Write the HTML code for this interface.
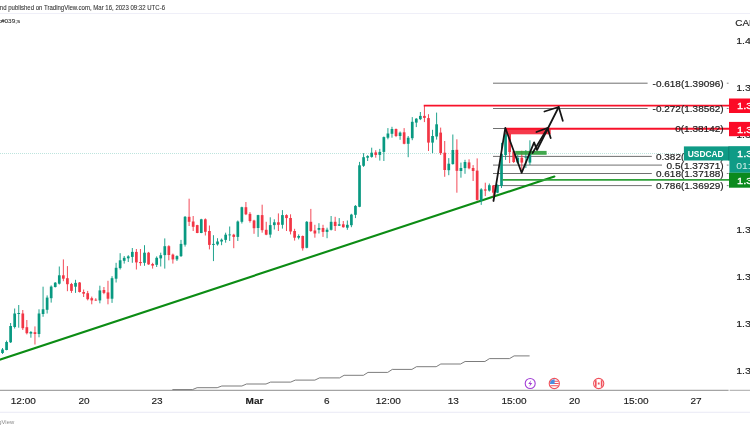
<!DOCTYPE html>
<html lang="en"><head><meta charset="utf-8"><title>USDCAD chart</title>
<style>html,body{margin:0;padding:0;background:#fff;}body{width:750px;height:430px;overflow:hidden;}svg{display:block;font-family:'Liberation Sans', 'DejaVu Sans', sans-serif;}</style>
</head><body>
<svg width="750" height="430" viewBox="0 0 750 430">
<rect x="0" y="0" width="750" height="430" fill="#ffffff"/>
<text x="-3.5" y="9.6" font-size="6.6" fill="#333" stroke="#333" stroke-width="0.08" textLength="168.5" lengthAdjust="spacingAndGlyphs">and published on TradingView.com, Mar 16, 2023 09:32 UTC-6</text>
<line x1="0" y1="13.5" x2="750" y2="13.5" stroke="#ebebf6" stroke-width="0.8"/>
<text x="-2.2" y="23.4" font-size="6.2" fill="#333" stroke="#333" stroke-width="0.1" textLength="22.4" lengthAdjust="spacingAndGlyphs">k#039;s</text>
<polyline fill="none" stroke="#646464" stroke-width="0.85" points="172.4,389.6 192.5,389.6 197.1,387.7 217.2,387.7 221.8,386.0 241.9,386.0 246.5,384.0 266.0,384.0 270.6,382.1 290.7,382.1 295.3,380.1 314.9,380.1 319.5,377.9 339.5,377.9 344.1,375.3 363.4,375.3 368.0,372.4 387.7,372.4 392.3,369.4 411.9,369.4 416.5,366.7 436.2,366.7 440.8,364.0 460.5,364.0 465.1,361.5 484.9,361.5 489.5,358.6 509.5,358.6 514.1,355.9 529.6,355.9"/>
<line x1="0" y1="153.5" x2="729" y2="153.5" stroke="#089981" stroke-width="0.7" stroke-dasharray="1 1" opacity="0.38"/>
<line x1="493" y1="83.2" x2="647.6" y2="83.2" stroke="#606060" stroke-width="0.9"/>
<line x1="493" y1="108.5" x2="647.6" y2="108.5" stroke="#606060" stroke-width="0.9"/>
<line x1="493" y1="128.5" x2="672.0" y2="128.5" stroke="#606060" stroke-width="0.9"/>
<line x1="493" y1="156.4" x2="651.8" y2="156.4" stroke="#606060" stroke-width="0.9"/>
<line x1="493" y1="165.1" x2="662.0" y2="165.1" stroke="#606060" stroke-width="0.9"/>
<line x1="493" y1="173.5" x2="651.8" y2="173.5" stroke="#606060" stroke-width="0.9"/>
<line x1="493" y1="185.6" x2="651.8" y2="185.6" stroke="#606060" stroke-width="0.9"/>
<line x1="-1" y1="359.9" x2="554.4" y2="176.5" stroke="#0c8c14" stroke-width="2.1" stroke-linecap="round"/>
<line x1="2.50" y1="348.0" x2="2.50" y2="354.0" stroke="#089981" stroke-width="0.9"/>
<rect x="1.15" y="349.5" width="2.7" height="3.5" fill="#089981"/>
<line x1="6.56" y1="340.6" x2="6.56" y2="350.3" stroke="#089981" stroke-width="0.9"/>
<rect x="5.21" y="342.0" width="2.7" height="8.0" fill="#089981"/>
<line x1="10.61" y1="323.0" x2="10.61" y2="343.0" stroke="#089981" stroke-width="0.9"/>
<rect x="9.26" y="326.0" width="2.7" height="16.3" fill="#089981"/>
<line x1="14.67" y1="308.5" x2="14.67" y2="328.5" stroke="#089981" stroke-width="0.9"/>
<rect x="13.32" y="313.5" width="2.7" height="13.5" fill="#089981"/>
<line x1="18.73" y1="305.0" x2="18.73" y2="327.7" stroke="#089981" stroke-width="0.9"/>
<rect x="17.38" y="313.0" width="2.7" height="1.0" fill="#089981"/>
<line x1="22.79" y1="310.0" x2="22.79" y2="330.0" stroke="#f23645" stroke-width="0.9"/>
<rect x="21.44" y="313.5" width="2.7" height="14.7" fill="#f23645"/>
<line x1="26.84" y1="320.0" x2="26.84" y2="334.4" stroke="#f23645" stroke-width="0.9"/>
<rect x="25.49" y="327.2" width="2.7" height="6.0" fill="#f23645"/>
<line x1="30.90" y1="331.0" x2="30.90" y2="337.7" stroke="#089981" stroke-width="0.9"/>
<rect x="29.55" y="332.0" width="2.7" height="1.6" fill="#089981"/>
<line x1="34.96" y1="326.4" x2="34.96" y2="344.5" stroke="#f23645" stroke-width="0.9"/>
<rect x="33.61" y="332.2" width="2.7" height="1.8" fill="#f23645"/>
<line x1="39.01" y1="309.3" x2="39.01" y2="337.3" stroke="#089981" stroke-width="0.9"/>
<rect x="37.66" y="313.5" width="2.7" height="20.5" fill="#089981"/>
<line x1="43.07" y1="286.7" x2="43.07" y2="316.8" stroke="#089981" stroke-width="0.9"/>
<rect x="41.72" y="309.3" width="2.7" height="4.7" fill="#089981"/>
<line x1="47.13" y1="295.4" x2="47.13" y2="313.5" stroke="#089981" stroke-width="0.9"/>
<rect x="45.78" y="297.6" width="2.7" height="12.2" fill="#089981"/>
<line x1="51.18" y1="285.4" x2="51.18" y2="302.6" stroke="#089981" stroke-width="0.9"/>
<rect x="49.83" y="286.6" width="2.7" height="11.6" fill="#089981"/>
<line x1="55.24" y1="282.0" x2="55.24" y2="287.5" stroke="#089981" stroke-width="0.9"/>
<rect x="53.89" y="282.7" width="2.7" height="4.3" fill="#089981"/>
<line x1="59.30" y1="266.5" x2="59.30" y2="284.5" stroke="#089981" stroke-width="0.9"/>
<rect x="57.95" y="275.3" width="2.7" height="8.4" fill="#089981"/>
<line x1="63.36" y1="259.4" x2="63.36" y2="281.2" stroke="#f23645" stroke-width="0.9"/>
<rect x="62.01" y="275.3" width="2.7" height="3.4" fill="#f23645"/>
<line x1="67.41" y1="266.1" x2="67.41" y2="291.2" stroke="#f23645" stroke-width="0.9"/>
<rect x="66.06" y="278.2" width="2.7" height="6.0" fill="#f23645"/>
<line x1="71.47" y1="282.9" x2="71.47" y2="292.9" stroke="#f23645" stroke-width="0.9"/>
<rect x="70.12" y="284.0" width="2.7" height="6.9" fill="#f23645"/>
<line x1="75.53" y1="279.8" x2="75.53" y2="292.9" stroke="#089981" stroke-width="0.9"/>
<rect x="74.18" y="282.9" width="2.7" height="3.8" fill="#089981"/>
<line x1="79.58" y1="282.0" x2="79.58" y2="292.5" stroke="#f23645" stroke-width="0.9"/>
<rect x="78.23" y="282.5" width="2.7" height="9.5" fill="#f23645"/>
<line x1="83.64" y1="289.5" x2="83.64" y2="297.0" stroke="#f23645" stroke-width="0.9"/>
<rect x="82.29" y="292.0" width="2.7" height="1.7" fill="#f23645"/>
<line x1="87.70" y1="290.9" x2="87.70" y2="300.4" stroke="#f23645" stroke-width="0.9"/>
<rect x="86.35" y="293.2" width="2.7" height="6.0" fill="#f23645"/>
<line x1="91.75" y1="296.6" x2="91.75" y2="304.3" stroke="#f23645" stroke-width="0.9"/>
<rect x="90.40" y="298.2" width="2.7" height="2.2" fill="#f23645"/>
<line x1="95.81" y1="298.2" x2="95.81" y2="300.9" stroke="#f23645" stroke-width="0.9"/>
<rect x="94.46" y="299.7" width="2.7" height="0.8" fill="#f23645"/>
<line x1="99.87" y1="285.7" x2="99.87" y2="303.3" stroke="#089981" stroke-width="0.9"/>
<rect x="98.52" y="290.4" width="2.7" height="10.0" fill="#089981"/>
<line x1="103.93" y1="287.0" x2="103.93" y2="294.2" stroke="#f23645" stroke-width="0.9"/>
<rect x="102.58" y="290.0" width="2.7" height="2.9" fill="#f23645"/>
<line x1="107.98" y1="280.8" x2="107.98" y2="304.3" stroke="#f23645" stroke-width="0.9"/>
<rect x="106.63" y="292.4" width="2.7" height="6.3" fill="#f23645"/>
<line x1="112.04" y1="276.2" x2="112.04" y2="302.9" stroke="#089981" stroke-width="0.9"/>
<rect x="110.69" y="278.2" width="2.7" height="20.5" fill="#089981"/>
<line x1="116.10" y1="262.8" x2="116.10" y2="282.5" stroke="#089981" stroke-width="0.9"/>
<rect x="114.75" y="267.8" width="2.7" height="10.9" fill="#089981"/>
<line x1="120.15" y1="253.2" x2="120.15" y2="269.5" stroke="#089981" stroke-width="0.9"/>
<rect x="118.80" y="260.3" width="2.7" height="7.8" fill="#089981"/>
<line x1="124.21" y1="256.0" x2="124.21" y2="263.6" stroke="#089981" stroke-width="0.9"/>
<rect x="122.86" y="257.8" width="2.7" height="3.0" fill="#089981"/>
<line x1="128.27" y1="255.2" x2="128.27" y2="262.0" stroke="#089981" stroke-width="0.9"/>
<rect x="126.92" y="256.4" width="2.7" height="1.9" fill="#089981"/>
<line x1="132.32" y1="248.0" x2="132.32" y2="262.8" stroke="#089981" stroke-width="0.9"/>
<rect x="130.97" y="251.9" width="2.7" height="5.0" fill="#089981"/>
<line x1="136.38" y1="249.0" x2="136.38" y2="269.5" stroke="#f23645" stroke-width="0.9"/>
<rect x="135.03" y="251.9" width="2.7" height="10.5" fill="#f23645"/>
<line x1="140.44" y1="249.0" x2="140.44" y2="265.8" stroke="#f23645" stroke-width="0.9"/>
<rect x="139.09" y="262.0" width="2.7" height="1.1" fill="#f23645"/>
<line x1="144.50" y1="245.2" x2="144.50" y2="265.8" stroke="#089981" stroke-width="0.9"/>
<rect x="143.15" y="252.7" width="2.7" height="10.1" fill="#089981"/>
<line x1="148.55" y1="251.9" x2="148.55" y2="264.8" stroke="#f23645" stroke-width="0.9"/>
<rect x="147.20" y="252.7" width="2.7" height="11.7" fill="#f23645"/>
<line x1="152.61" y1="262.8" x2="152.61" y2="268.6" stroke="#f23645" stroke-width="0.9"/>
<rect x="151.26" y="264.0" width="2.7" height="1.6" fill="#f23645"/>
<line x1="156.67" y1="256.4" x2="156.67" y2="267.0" stroke="#089981" stroke-width="0.9"/>
<rect x="155.32" y="257.8" width="2.7" height="7.0" fill="#089981"/>
<line x1="160.72" y1="252.7" x2="160.72" y2="266.5" stroke="#089981" stroke-width="0.9"/>
<rect x="159.37" y="255.2" width="2.7" height="3.2" fill="#089981"/>
<line x1="164.78" y1="238.4" x2="164.78" y2="268.6" stroke="#089981" stroke-width="0.9"/>
<rect x="163.43" y="246.2" width="2.7" height="8.9" fill="#089981"/>
<line x1="168.84" y1="245.2" x2="168.84" y2="260.3" stroke="#f23645" stroke-width="0.9"/>
<rect x="167.49" y="246.2" width="2.7" height="8.8" fill="#f23645"/>
<line x1="172.89" y1="253.6" x2="172.89" y2="263.6" stroke="#f23645" stroke-width="0.9"/>
<rect x="171.54" y="254.6" width="2.7" height="4.8" fill="#f23645"/>
<line x1="176.95" y1="255.3" x2="176.95" y2="261.0" stroke="#089981" stroke-width="0.9"/>
<rect x="175.60" y="256.1" width="2.7" height="3.3" fill="#089981"/>
<line x1="181.01" y1="239.9" x2="181.01" y2="257.0" stroke="#089981" stroke-width="0.9"/>
<rect x="179.66" y="243.9" width="2.7" height="12.2" fill="#089981"/>
<line x1="185.07" y1="216.0" x2="185.07" y2="246.6" stroke="#089981" stroke-width="0.9"/>
<rect x="183.72" y="216.8" width="2.7" height="27.9" fill="#089981"/>
<line x1="189.12" y1="198.7" x2="189.12" y2="226.0" stroke="#f23645" stroke-width="0.9"/>
<rect x="187.77" y="216.8" width="2.7" height="5.0" fill="#f23645"/>
<line x1="193.18" y1="216.0" x2="193.18" y2="231.0" stroke="#f23645" stroke-width="0.9"/>
<rect x="191.83" y="221.5" width="2.7" height="5.3" fill="#f23645"/>
<line x1="197.24" y1="224.8" x2="197.24" y2="233.2" stroke="#f23645" stroke-width="0.9"/>
<rect x="195.89" y="225.1" width="2.7" height="7.9" fill="#f23645"/>
<line x1="201.29" y1="218.8" x2="201.29" y2="233.2" stroke="#089981" stroke-width="0.9"/>
<rect x="199.94" y="219.3" width="2.7" height="13.7" fill="#089981"/>
<line x1="205.35" y1="218.4" x2="205.35" y2="235.5" stroke="#f23645" stroke-width="0.9"/>
<rect x="204.00" y="219.3" width="2.7" height="12.5" fill="#f23645"/>
<line x1="209.41" y1="225.5" x2="209.41" y2="249.4" stroke="#f23645" stroke-width="0.9"/>
<rect x="208.06" y="231.0" width="2.7" height="13.9" fill="#f23645"/>
<line x1="213.46" y1="235.2" x2="213.46" y2="261.1" stroke="#089981" stroke-width="0.9"/>
<rect x="212.11" y="243.9" width="2.7" height="1.0" fill="#089981"/>
<line x1="217.52" y1="238.2" x2="217.52" y2="245.6" stroke="#089981" stroke-width="0.9"/>
<rect x="216.17" y="241.5" width="2.7" height="2.9" fill="#089981"/>
<line x1="221.58" y1="238.5" x2="221.58" y2="245.2" stroke="#089981" stroke-width="0.9"/>
<rect x="220.23" y="239.7" width="2.7" height="1.8" fill="#089981"/>
<line x1="225.64" y1="232.7" x2="225.64" y2="242.7" stroke="#089981" stroke-width="0.9"/>
<rect x="224.29" y="234.7" width="2.7" height="5.2" fill="#089981"/>
<line x1="229.69" y1="226.5" x2="229.69" y2="241.0" stroke="#089981" stroke-width="0.9"/>
<rect x="228.34" y="234.5" width="2.7" height="0.8" fill="#089981"/>
<line x1="233.75" y1="233.8" x2="233.75" y2="248.2" stroke="#f23645" stroke-width="0.9"/>
<rect x="232.40" y="234.7" width="2.7" height="2.2" fill="#f23645"/>
<line x1="237.81" y1="220.5" x2="237.81" y2="241.0" stroke="#089981" stroke-width="0.9"/>
<rect x="236.46" y="221.5" width="2.7" height="15.4" fill="#089981"/>
<line x1="241.86" y1="206.7" x2="241.86" y2="223.5" stroke="#089981" stroke-width="0.9"/>
<rect x="240.51" y="207.2" width="2.7" height="14.6" fill="#089981"/>
<line x1="245.92" y1="202.0" x2="245.92" y2="215.1" stroke="#f23645" stroke-width="0.9"/>
<rect x="244.57" y="207.2" width="2.7" height="7.1" fill="#f23645"/>
<line x1="249.98" y1="212.1" x2="249.98" y2="222.6" stroke="#f23645" stroke-width="0.9"/>
<rect x="248.63" y="213.9" width="2.7" height="7.1" fill="#f23645"/>
<line x1="254.03" y1="219.8" x2="254.03" y2="233.8" stroke="#f23645" stroke-width="0.9"/>
<rect x="252.68" y="220.5" width="2.7" height="7.7" fill="#f23645"/>
<line x1="258.09" y1="214.8" x2="258.09" y2="236.9" stroke="#089981" stroke-width="0.9"/>
<rect x="256.74" y="215.1" width="2.7" height="12.9" fill="#089981"/>
<line x1="262.15" y1="204.7" x2="262.15" y2="232.7" stroke="#f23645" stroke-width="0.9"/>
<rect x="260.80" y="215.1" width="2.7" height="15.1" fill="#f23645"/>
<line x1="266.21" y1="221.8" x2="266.21" y2="235.2" stroke="#f23645" stroke-width="0.9"/>
<rect x="264.86" y="229.8" width="2.7" height="4.9" fill="#f23645"/>
<line x1="270.26" y1="217.3" x2="270.26" y2="237.7" stroke="#089981" stroke-width="0.9"/>
<rect x="268.91" y="225.1" width="2.7" height="9.5" fill="#089981"/>
<line x1="274.32" y1="219.3" x2="274.32" y2="229.5" stroke="#089981" stroke-width="0.9"/>
<rect x="272.97" y="222.3" width="2.7" height="2.8" fill="#089981"/>
<line x1="278.38" y1="213.4" x2="278.38" y2="231.0" stroke="#f23645" stroke-width="0.9"/>
<rect x="277.03" y="222.3" width="2.7" height="2.5" fill="#f23645"/>
<line x1="282.43" y1="210.1" x2="282.43" y2="228.6" stroke="#089981" stroke-width="0.9"/>
<rect x="281.08" y="215.1" width="2.7" height="9.7" fill="#089981"/>
<line x1="286.49" y1="214.3" x2="286.49" y2="231.0" stroke="#f23645" stroke-width="0.9"/>
<rect x="285.14" y="215.1" width="2.7" height="3.0" fill="#f23645"/>
<line x1="290.55" y1="214.3" x2="290.55" y2="234.4" stroke="#f23645" stroke-width="0.9"/>
<rect x="289.20" y="218.0" width="2.7" height="13.5" fill="#f23645"/>
<line x1="294.60" y1="228.8" x2="294.60" y2="240.6" stroke="#f23645" stroke-width="0.9"/>
<rect x="293.25" y="231.0" width="2.7" height="6.7" fill="#f23645"/>
<line x1="298.66" y1="234.4" x2="298.66" y2="239.4" stroke="#089981" stroke-width="0.9"/>
<rect x="297.31" y="236.0" width="2.7" height="1.7" fill="#089981"/>
<line x1="302.72" y1="235.5" x2="302.72" y2="250.6" stroke="#f23645" stroke-width="0.9"/>
<rect x="301.37" y="236.0" width="2.7" height="12.3" fill="#f23645"/>
<line x1="306.78" y1="221.0" x2="306.78" y2="248.3" stroke="#089981" stroke-width="0.9"/>
<rect x="305.43" y="221.8" width="2.7" height="26.0" fill="#089981"/>
<line x1="310.83" y1="208.9" x2="310.83" y2="231.9" stroke="#f23645" stroke-width="0.9"/>
<rect x="309.48" y="221.8" width="2.7" height="9.2" fill="#f23645"/>
<line x1="314.89" y1="224.8" x2="314.89" y2="237.7" stroke="#f23645" stroke-width="0.9"/>
<rect x="313.54" y="230.5" width="2.7" height="3.0" fill="#f23645"/>
<line x1="318.95" y1="223.2" x2="318.95" y2="233.5" stroke="#089981" stroke-width="0.9"/>
<rect x="317.60" y="228.0" width="2.7" height="1.8" fill="#089981"/>
<line x1="323.00" y1="224.8" x2="323.00" y2="236.9" stroke="#f23645" stroke-width="0.9"/>
<rect x="321.65" y="228.0" width="2.7" height="3.9" fill="#f23645"/>
<line x1="327.06" y1="227.7" x2="327.06" y2="238.2" stroke="#089981" stroke-width="0.9"/>
<rect x="325.71" y="229.7" width="2.7" height="2.2" fill="#089981"/>
<line x1="331.12" y1="216.0" x2="331.12" y2="230.5" stroke="#089981" stroke-width="0.9"/>
<rect x="329.77" y="221.8" width="2.7" height="8.0" fill="#089981"/>
<line x1="335.17" y1="216.8" x2="335.17" y2="231.0" stroke="#f23645" stroke-width="0.9"/>
<rect x="333.82" y="221.8" width="2.7" height="4.2" fill="#f23645"/>
<line x1="339.23" y1="218.1" x2="339.23" y2="226.0" stroke="#089981" stroke-width="0.9"/>
<rect x="337.88" y="224.3" width="2.7" height="1.4" fill="#089981"/>
<line x1="343.29" y1="221.0" x2="343.29" y2="227.7" stroke="#f23645" stroke-width="0.9"/>
<rect x="341.94" y="224.3" width="2.7" height="2.9" fill="#f23645"/>
<line x1="347.35" y1="220.5" x2="347.35" y2="229.8" stroke="#089981" stroke-width="0.9"/>
<rect x="346.00" y="224.8" width="2.7" height="2.9" fill="#089981"/>
<line x1="351.40" y1="213.8" x2="351.40" y2="227.2" stroke="#089981" stroke-width="0.9"/>
<rect x="350.05" y="214.6" width="2.7" height="10.6" fill="#089981"/>
<line x1="355.46" y1="205.1" x2="355.46" y2="218.1" stroke="#089981" stroke-width="0.9"/>
<rect x="354.11" y="205.9" width="2.7" height="8.9" fill="#089981"/>
<line x1="359.52" y1="161.9" x2="359.52" y2="207.2" stroke="#089981" stroke-width="0.9"/>
<rect x="358.17" y="165.3" width="2.7" height="41.5" fill="#089981"/>
<line x1="363.57" y1="153.2" x2="363.57" y2="166.9" stroke="#089981" stroke-width="0.9"/>
<rect x="362.22" y="157.2" width="2.7" height="8.6" fill="#089981"/>
<line x1="367.63" y1="155.2" x2="367.63" y2="161.0" stroke="#089981" stroke-width="0.9"/>
<rect x="366.28" y="156.1" width="2.7" height="1.6" fill="#089981"/>
<line x1="371.69" y1="147.7" x2="371.69" y2="157.7" stroke="#089981" stroke-width="0.9"/>
<rect x="370.34" y="152.7" width="2.7" height="4.2" fill="#089981"/>
<line x1="375.74" y1="150.2" x2="375.74" y2="157.7" stroke="#f23645" stroke-width="0.9"/>
<rect x="374.39" y="152.4" width="2.7" height="2.5" fill="#f23645"/>
<line x1="379.80" y1="148.9" x2="379.80" y2="160.6" stroke="#089981" stroke-width="0.9"/>
<rect x="378.45" y="151.9" width="2.7" height="3.0" fill="#089981"/>
<line x1="383.86" y1="136.5" x2="383.86" y2="161.0" stroke="#089981" stroke-width="0.9"/>
<rect x="382.51" y="137.1" width="2.7" height="14.8" fill="#089981"/>
<line x1="387.92" y1="128.1" x2="387.92" y2="139.3" stroke="#089981" stroke-width="0.9"/>
<rect x="386.56" y="133.5" width="2.7" height="4.2" fill="#089981"/>
<line x1="391.97" y1="126.8" x2="391.97" y2="137.7" stroke="#089981" stroke-width="0.9"/>
<rect x="390.62" y="129.0" width="2.7" height="4.8" fill="#089981"/>
<line x1="396.03" y1="128.5" x2="396.03" y2="137.1" stroke="#f23645" stroke-width="0.9"/>
<rect x="394.68" y="129.0" width="2.7" height="7.0" fill="#f23645"/>
<line x1="400.09" y1="131.5" x2="400.09" y2="139.8" stroke="#089981" stroke-width="0.9"/>
<rect x="398.74" y="132.6" width="2.7" height="3.4" fill="#089981"/>
<line x1="404.14" y1="128.1" x2="404.14" y2="144.3" stroke="#f23645" stroke-width="0.9"/>
<rect x="402.79" y="132.3" width="2.7" height="11.5" fill="#f23645"/>
<line x1="408.20" y1="136.0" x2="408.20" y2="157.2" stroke="#089981" stroke-width="0.9"/>
<rect x="406.85" y="137.7" width="2.7" height="6.1" fill="#089981"/>
<line x1="412.26" y1="117.1" x2="412.26" y2="140.2" stroke="#089981" stroke-width="0.9"/>
<rect x="410.91" y="121.8" width="2.7" height="16.4" fill="#089981"/>
<line x1="416.31" y1="118.1" x2="416.31" y2="127.1" stroke="#089981" stroke-width="0.9"/>
<rect x="414.96" y="118.7" width="2.7" height="3.9" fill="#089981"/>
<line x1="420.37" y1="112.0" x2="420.37" y2="120.1" stroke="#089981" stroke-width="0.9"/>
<rect x="419.02" y="115.9" width="2.7" height="3.3" fill="#089981"/>
<line x1="424.43" y1="106.0" x2="424.43" y2="122.1" stroke="#f23645" stroke-width="0.9"/>
<rect x="423.08" y="115.9" width="2.7" height="2.0" fill="#f23645"/>
<line x1="428.49" y1="114.2" x2="428.49" y2="151.0" stroke="#f23645" stroke-width="0.9"/>
<rect x="427.13" y="118.1" width="2.7" height="24.5" fill="#f23645"/>
<line x1="432.54" y1="129.8" x2="432.54" y2="153.1" stroke="#089981" stroke-width="0.9"/>
<rect x="431.19" y="136.0" width="2.7" height="6.6" fill="#089981"/>
<line x1="436.60" y1="112.6" x2="436.60" y2="139.6" stroke="#089981" stroke-width="0.9"/>
<rect x="435.25" y="124.3" width="2.7" height="12.2" fill="#089981"/>
<line x1="440.66" y1="127.6" x2="440.66" y2="155.0" stroke="#f23645" stroke-width="0.9"/>
<rect x="439.31" y="132.6" width="2.7" height="20.5" fill="#f23645"/>
<line x1="444.71" y1="141.0" x2="444.71" y2="176.8" stroke="#f23645" stroke-width="0.9"/>
<rect x="443.36" y="152.7" width="2.7" height="17.3" fill="#f23645"/>
<line x1="448.77" y1="158.1" x2="448.77" y2="175.2" stroke="#089981" stroke-width="0.9"/>
<rect x="447.42" y="163.7" width="2.7" height="6.5" fill="#089981"/>
<line x1="452.83" y1="134.5" x2="452.83" y2="164.6" stroke="#089981" stroke-width="0.9"/>
<rect x="451.48" y="150.0" width="2.7" height="14.1" fill="#089981"/>
<line x1="456.88" y1="139.3" x2="456.88" y2="192.7" stroke="#f23645" stroke-width="0.9"/>
<rect x="455.53" y="149.8" width="2.7" height="21.0" fill="#f23645"/>
<line x1="460.94" y1="162.6" x2="460.94" y2="177.7" stroke="#089981" stroke-width="0.9"/>
<rect x="459.59" y="168.0" width="2.7" height="3.0" fill="#089981"/>
<line x1="465.00" y1="159.8" x2="465.00" y2="173.8" stroke="#089981" stroke-width="0.9"/>
<rect x="463.65" y="162.0" width="2.7" height="6.1" fill="#089981"/>
<line x1="469.06" y1="159.3" x2="469.06" y2="169.3" stroke="#f23645" stroke-width="0.9"/>
<rect x="467.71" y="162.4" width="2.7" height="5.9" fill="#f23645"/>
<line x1="473.11" y1="165.1" x2="473.11" y2="181.0" stroke="#f23645" stroke-width="0.9"/>
<rect x="471.76" y="168.0" width="2.7" height="3.0" fill="#f23645"/>
<line x1="477.17" y1="158.4" x2="477.17" y2="200.6" stroke="#f23645" stroke-width="0.9"/>
<rect x="475.82" y="170.6" width="2.7" height="29.3" fill="#f23645"/>
<line x1="481.23" y1="188.2" x2="481.23" y2="204.9" stroke="#089981" stroke-width="0.9"/>
<rect x="479.88" y="189.4" width="2.7" height="11.2" fill="#089981"/>
<line x1="485.28" y1="182.7" x2="485.28" y2="196.1" stroke="#f23645" stroke-width="0.9"/>
<rect x="483.93" y="189.4" width="2.7" height="1.2" fill="#f23645"/>
<line x1="489.34" y1="183.5" x2="489.34" y2="191.6" stroke="#089981" stroke-width="0.9"/>
<rect x="487.99" y="185.2" width="2.7" height="5.4" fill="#089981"/>
<line x1="493.40" y1="185.0" x2="493.40" y2="201.1" stroke="#f23645" stroke-width="0.9"/>
<rect x="492.05" y="185.5" width="2.7" height="7.2" fill="#f23645"/>
<line x1="497.45" y1="184.4" x2="497.45" y2="193.2" stroke="#089981" stroke-width="0.9"/>
<rect x="496.10" y="184.9" width="2.7" height="7.8" fill="#089981"/>
<line x1="501.51" y1="142.8" x2="501.51" y2="188.0" stroke="#089981" stroke-width="0.9"/>
<rect x="500.16" y="154.0" width="2.7" height="31.8" fill="#089981"/>
<line x1="505.57" y1="128.1" x2="505.57" y2="159.9" stroke="#089981" stroke-width="0.9"/>
<rect x="504.22" y="133.0" width="2.7" height="22.0" fill="#089981"/>
<line x1="509.63" y1="133.0" x2="509.63" y2="163.1" stroke="#f23645" stroke-width="0.9"/>
<rect x="508.28" y="133.8" width="2.7" height="18.4" fill="#f23645"/>
<line x1="513.68" y1="150.8" x2="513.68" y2="163.0" stroke="#f23645" stroke-width="0.9"/>
<rect x="512.33" y="151.3" width="2.7" height="10.7" fill="#f23645"/>
<line x1="517.74" y1="155.0" x2="517.74" y2="163.6" stroke="#089981" stroke-width="0.9"/>
<rect x="516.39" y="157.7" width="2.7" height="4.9" fill="#089981"/>
<line x1="521.80" y1="150.7" x2="521.80" y2="170.0" stroke="#f23645" stroke-width="0.9"/>
<rect x="520.45" y="157.7" width="2.7" height="4.9" fill="#f23645"/>
<line x1="525.85" y1="150.0" x2="525.85" y2="168.0" stroke="#089981" stroke-width="0.9"/>
<rect x="524.50" y="157.2" width="2.7" height="0.8" fill="#089981"/>
<line x1="529.91" y1="140.3" x2="529.91" y2="165.0" stroke="#089981" stroke-width="0.9"/>
<rect x="528.56" y="151.7" width="2.7" height="10.9" fill="#089981"/>
<rect x="505.5" y="128.5" width="45.2" height="5.8" fill="#f5283c" opacity="0.92"/>
<rect x="515.2" y="150.9" width="31.4" height="3.9" fill="#2e9e3a" opacity="0.9"/>
<line x1="502.5" y1="179.9" x2="730" y2="179.9" stroke="#2fa03a" stroke-width="1.9"/>
<line x1="423.7" y1="105.6" x2="730" y2="105.6" stroke="#f8122a" stroke-width="1.9"/>
<line x1="505" y1="128.7" x2="730" y2="128.7" stroke="#f8122a" stroke-width="1.9"/>
<g fill="none" stroke="#151515" stroke-width="1.75" stroke-linejoin="round" stroke-linecap="round">
<polyline points="493.5,201 505.3,127.8 521.6,172.8 534.1,142.4 537,150 558.7,107"/>
<polyline points="532.5,153 547.5,128.2"/>
<polyline points="544.4,111.5 558.7,107 562.8,120.8"/>
<polyline points="536.4,132 547.5,128 550.7,138.1"/>
</g>
<text x="652.6" y="86.8" font-size="9.8" fill="#1c1c1c" stroke="#1c1c1c" stroke-width="0.18" textLength="71.1" lengthAdjust="spacingAndGlyphs">-0.618(1.39096)</text>
<text x="652.6" y="112.1" font-size="9.8" fill="#1c1c1c" stroke="#1c1c1c" stroke-width="0.18" textLength="71.1" lengthAdjust="spacingAndGlyphs">-0.272(1.38562)</text>
<text x="675.2" y="132.0" font-size="9.8" fill="#1c1c1c" stroke="#1c1c1c" stroke-width="0.18" textLength="48.5" lengthAdjust="spacingAndGlyphs">0(1.38142)</text>
<text x="656.0" y="159.9" font-size="9.8" fill="#1c1c1c" stroke="#1c1c1c" stroke-width="0.18" textLength="67.7" lengthAdjust="spacingAndGlyphs">0.382(1.37554)</text>
<text x="666.5" y="168.6" font-size="9.8" fill="#1c1c1c" stroke="#1c1c1c" stroke-width="0.18" textLength="57.2" lengthAdjust="spacingAndGlyphs">0.5(1.37371)</text>
<text x="656.0" y="177.0" font-size="9.8" fill="#1c1c1c" stroke="#1c1c1c" stroke-width="0.18" textLength="67.7" lengthAdjust="spacingAndGlyphs">0.618(1.37188)</text>
<text x="656.0" y="189.0" font-size="9.8" fill="#1c1c1c" stroke="#1c1c1c" stroke-width="0.18" textLength="67.7" lengthAdjust="spacingAndGlyphs">0.786(1.36929)</text>
<line x1="726.8" y1="83.2" x2="728.6" y2="83.2" stroke="#555" stroke-width="0.7"/>
<line x1="726.8" y1="108.5" x2="728.6" y2="108.5" stroke="#555" stroke-width="0.7"/>
<line x1="726.8" y1="156.4" x2="728.6" y2="156.4" stroke="#555" stroke-width="0.7"/>
<line x1="726.8" y1="165.1" x2="728.6" y2="165.1" stroke="#555" stroke-width="0.7"/>
<line x1="726.8" y1="173.5" x2="728.6" y2="173.5" stroke="#555" stroke-width="0.7"/>
<line x1="726.8" y1="185.6" x2="728.6" y2="185.6" stroke="#555" stroke-width="0.7"/>
<text x="735.3" y="26" font-size="8.9" fill="#1c1c1c" stroke="#1c1c1c" stroke-width="0.15" textLength="21" lengthAdjust="spacingAndGlyphs">CAD</text>
<text x="736.2" y="44.2" font-size="9.4" fill="#1c1c1c" stroke="#1c1c1c" stroke-width="0.15" textLength="20.6" lengthAdjust="spacingAndGlyphs">1.40</text>
<text x="736.2" y="91.2" font-size="9.4" fill="#1c1c1c" stroke="#1c1c1c" stroke-width="0.15" textLength="20.6" lengthAdjust="spacingAndGlyphs">1.39</text>
<text x="736.2" y="138.4" font-size="9.4" fill="#1c1c1c" stroke="#1c1c1c" stroke-width="0.15" textLength="20.6" lengthAdjust="spacingAndGlyphs">1.38</text>
<text x="736.2" y="232.9" font-size="9.4" fill="#1c1c1c" stroke="#1c1c1c" stroke-width="0.15" textLength="20.6" lengthAdjust="spacingAndGlyphs">1.36</text>
<text x="736.2" y="280.1" font-size="9.4" fill="#1c1c1c" stroke="#1c1c1c" stroke-width="0.15" textLength="20.6" lengthAdjust="spacingAndGlyphs">1.35</text>
<text x="736.2" y="327.3" font-size="9.4" fill="#1c1c1c" stroke="#1c1c1c" stroke-width="0.15" textLength="20.6" lengthAdjust="spacingAndGlyphs">1.34</text>
<text x="736.2" y="374.2" font-size="9.4" fill="#1c1c1c" stroke="#1c1c1c" stroke-width="0.15" textLength="20.6" lengthAdjust="spacingAndGlyphs">1.33</text>
<rect x="729" y="98.5" width="22" height="14.5" fill="#fb0a26"/>
<text x="737" y="109.3" font-size="9.8" fill="#fff" stroke="#fff" stroke-width="0.3" textLength="21.5" lengthAdjust="spacingAndGlyphs">1.38</text>
<rect x="729" y="121.9" width="22" height="14.3" fill="#fb0a26"/>
<text x="737" y="132.6" font-size="9.8" fill="#fff" stroke="#fff" stroke-width="0.3" textLength="21.5" lengthAdjust="spacingAndGlyphs">1.38</text>
<rect x="683.9" y="146.4" width="67" height="14.1" fill="#0f9b86"/>
<rect x="728.4" y="146.4" width="1.2" height="14.1" fill="#0b7d6c"/>
<text x="687.7" y="157.2" font-size="9.4" font-weight="bold" fill="#fff" textLength="36" lengthAdjust="spacingAndGlyphs">USDCAD</text>
<rect x="729.4" y="146.4" width="21" height="26.4" fill="#0f9b86"/>
<text x="737" y="157.2" font-size="9.8" fill="#fff" stroke="#fff" stroke-width="0.3" textLength="21.5" lengthAdjust="spacingAndGlyphs">1.37</text>
<text x="736.2" y="168.9" font-size="9.6" fill="#cfeee8" textLength="26" lengthAdjust="spacingAndGlyphs">01:27</text>
<rect x="729" y="172.8" width="22" height="14.9" fill="#0b8a1e"/>
<text x="737" y="184" font-size="9.8" fill="#fff" stroke="#fff" stroke-width="0.3" textLength="21.5" lengthAdjust="spacingAndGlyphs">1.37</text>
<line x1="0" y1="390.3" x2="728.6" y2="390.3" stroke="#707070" stroke-width="0.8"/>
<line x1="729.6" y1="390.3" x2="750" y2="390.3" stroke="#909090" stroke-width="0.8"/>
<line x1="0" y1="412.3" x2="750" y2="412.3" stroke="#e4e4f2" stroke-width="0.8"/>
<text transform="translate(23.3,404) scale(1.045,1)" font-size="9.6" text-anchor="middle" fill="#1c1c1c" stroke="#1c1c1c" stroke-width="0.15">12:00</text>
<text transform="translate(84.0,404) scale(1.045,1)" font-size="9.6" text-anchor="middle" fill="#1c1c1c" stroke="#1c1c1c" stroke-width="0.15">20</text>
<text transform="translate(157.0,404) scale(1.045,1)" font-size="9.6" text-anchor="middle" fill="#1c1c1c" stroke="#1c1c1c" stroke-width="0.15">23</text>
<text transform="translate(254.5,404) scale(1.045,1)" font-size="9.6" text-anchor="middle" fill="#1c1c1c" stroke="#1c1c1c" stroke-width="0.15" font-weight="bold">Mar</text>
<text transform="translate(326.7,404) scale(1.045,1)" font-size="9.6" text-anchor="middle" fill="#1c1c1c" stroke="#1c1c1c" stroke-width="0.15">6</text>
<text transform="translate(388.3,404) scale(1.045,1)" font-size="9.6" text-anchor="middle" fill="#1c1c1c" stroke="#1c1c1c" stroke-width="0.15">12:00</text>
<text transform="translate(453.3,404) scale(1.045,1)" font-size="9.6" text-anchor="middle" fill="#1c1c1c" stroke="#1c1c1c" stroke-width="0.15">13</text>
<text transform="translate(514.0,404) scale(1.045,1)" font-size="9.6" text-anchor="middle" fill="#1c1c1c" stroke="#1c1c1c" stroke-width="0.15">15:00</text>
<text transform="translate(574.5,404) scale(1.045,1)" font-size="9.6" text-anchor="middle" fill="#1c1c1c" stroke="#1c1c1c" stroke-width="0.15">20</text>
<text transform="translate(636.0,404) scale(1.045,1)" font-size="9.6" text-anchor="middle" fill="#1c1c1c" stroke="#1c1c1c" stroke-width="0.15">15:00</text>
<text transform="translate(696.0,404) scale(1.045,1)" font-size="9.6" text-anchor="middle" fill="#1c1c1c" stroke="#1c1c1c" stroke-width="0.15">27</text>
<g>
<circle cx="530.2" cy="383.5" r="5" fill="#fff" stroke="#a33fd6" stroke-width="1.1"/>
<path d="M531.2,380.3 L528.2,384.1 L530.2,384.1 L529.3,386.8 L532.3,382.9 L530.3,382.9 Z" fill="#a33fd6"/>
<circle cx="554.3" cy="383.5" r="5.1" fill="#fff" stroke="#f0525c" stroke-width="1.1"/>
<path d="M550.3,381.2 h8 M549.9,383.5 h8.8 M550.3,385.8 h8" stroke="#f0525c" stroke-width="1.1"/>
<path d="M554.6,379.2 A4.4,4.4 0 0 0 550,383.9 L554.6,383.9 Z" fill="#4a8fe0"/>
<circle cx="598.7" cy="383.5" r="5.1" fill="#fff" stroke="#f0525c" stroke-width="1.1"/>
<rect x="595" y="380.2" width="1.6" height="6.6" fill="#f0525c"/>
<rect x="600.8" y="380.2" width="1.6" height="6.6" fill="#f0525c"/>
<rect x="597.8" y="382.5" width="1.8" height="2" fill="#f0525c"/>
</g>
<text x="14.2" y="423.5" font-size="5.9" text-anchor="end" fill="#8a8a8a">17 TradingView</text>
</svg>
</body></html>
